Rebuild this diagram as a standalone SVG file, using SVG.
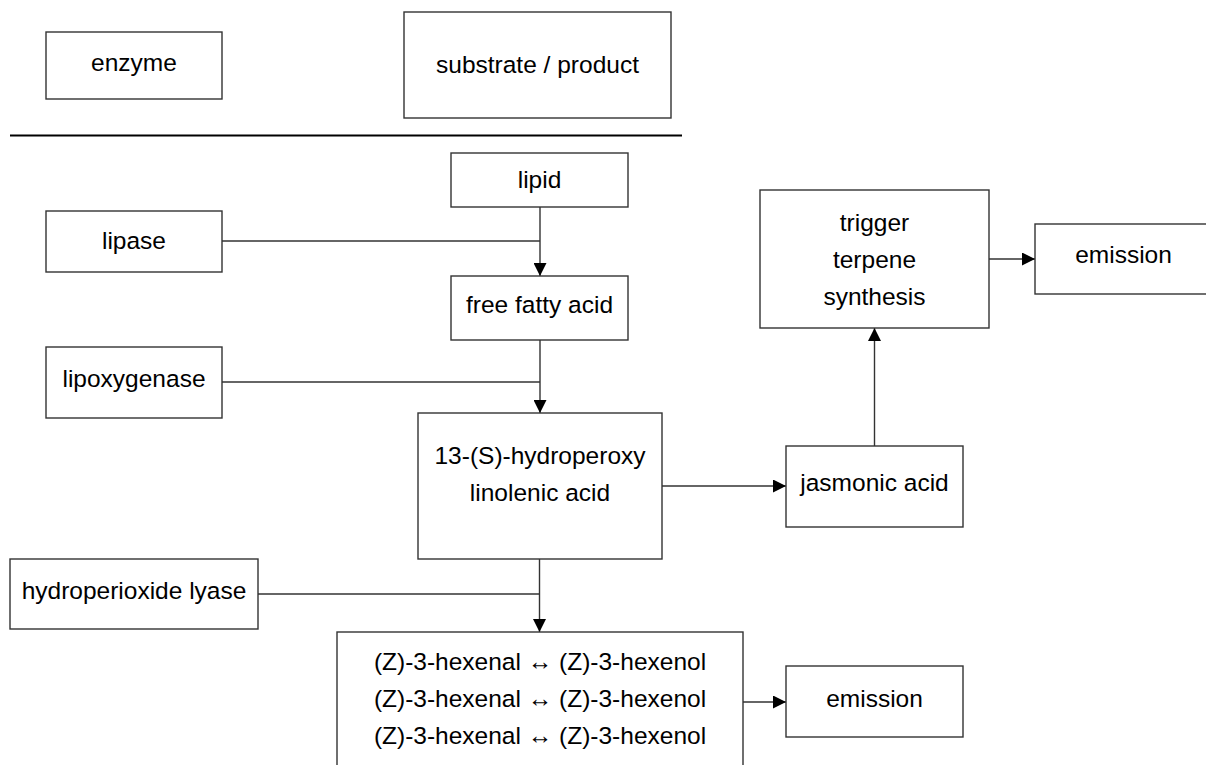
<svg xmlns="http://www.w3.org/2000/svg" width="1206" height="765" viewBox="0 0 1206 765">
<style>
.box{fill:#fff;stroke:#333;stroke-width:1.4}
.t{font-family:"Liberation Sans",Arial,sans-serif;font-size:24.5px;fill:#000;text-anchor:middle}
.c{fill:none;stroke:#333;stroke-width:1.4}
</style>
<defs>
<marker id="ah" markerUnits="userSpaceOnUse" markerWidth="13" markerHeight="13" refX="13" refY="6.5" orient="auto">
<path d="M0,0 L13,6.5 L0,13 z" fill="#000"/>
</marker>
</defs>
<rect width="1206" height="765" fill="#fff"/>
<g id="legend-enzyme"><rect class="box" x="46" y="32" width="176" height="67"/><text class="t" x="134" y="71">enzyme</text></g>
<g id="legend-substrate"><rect class="box" x="404" y="12" width="267" height="106"/><text class="t" x="537.5" y="73">substrate / product</text></g>
<line id="separator" x1="10" y1="135.5" x2="682" y2="135.5" stroke="#000" stroke-width="2"/>
<g id="connectors">
<line class="c" x1="540" y1="207" x2="540" y2="276" marker-end="url(#ah)"/>
<line class="c" x1="222" y1="241" x2="540" y2="241"/>
<line class="c" x1="540" y1="340" x2="540" y2="413" marker-end="url(#ah)"/>
<line class="c" x1="222" y1="382" x2="540" y2="382"/>
<line class="c" x1="662" y1="486" x2="786" y2="486" marker-end="url(#ah)"/>
<line class="c" x1="874.5" y1="446" x2="874.5" y2="328" marker-end="url(#ah)"/>
<line class="c" x1="989" y1="259" x2="1035" y2="259" marker-end="url(#ah)"/>
<line class="c" x1="539.5" y1="559" x2="539.5" y2="632" marker-end="url(#ah)"/>
<line class="c" x1="258" y1="594" x2="539.5" y2="594"/>
<line class="c" x1="743" y1="702" x2="786" y2="702" marker-end="url(#ah)"/>
</g>
<g id="lipid"><rect class="box" x="451" y="153" width="177" height="54"/><text class="t" x="539.5" y="188">lipid</text></g>
<g id="lipase"><rect class="box" x="46" y="211" width="176" height="61"/><text class="t" x="134" y="249">lipase</text></g>
<g id="free-fatty-acid"><rect class="box" x="451" y="276" width="177" height="64"/><text class="t" x="539.5" y="313">free fatty acid</text></g>
<g id="lipoxygenase"><rect class="box" x="46" y="347" width="176" height="71"/><text class="t" x="134" y="387">lipoxygenase</text></g>
<g id="hydroperoxy"><rect class="box" x="418" y="413" width="244" height="146"/><text class="t" x="540" y="464">13-(S)-hydroperoxy</text><text class="t" x="540" y="501">linolenic acid</text></g>
<g id="jasmonic-acid"><rect class="box" x="786" y="446" width="177" height="81"/><text class="t" x="874.5" y="491">jasmonic acid</text></g>
<g id="trigger"><rect class="box" x="760" y="190" width="229" height="138"/><text class="t" x="874.5" y="231">trigger</text><text class="t" x="874.5" y="268">terpene</text><text class="t" x="874.5" y="305">synthesis</text></g>
<g id="emission-top"><rect class="box" x="1035" y="224" width="177" height="70"/><text class="t" x="1123.5" y="263">emission</text></g>
<g id="hydroperioxide-lyase"><rect class="box" x="10" y="559" width="248" height="70"/><text class="t" x="134" y="599">hydroperioxide lyase</text></g>
<g id="hexenal"><rect class="box" x="337" y="632" width="406" height="140"/><text class="t" x="540" y="670">(Z)-3-hexenal ↔ (Z)-3-hexenol</text><text class="t" x="540" y="707">(Z)-3-hexenal ↔ (Z)-3-hexenol</text><text class="t" x="540" y="744">(Z)-3-hexenal ↔ (Z)-3-hexenol</text></g>
<g id="emission-bottom"><rect class="box" x="786" y="666" width="177" height="71"/><text class="t" x="874.5" y="707">emission</text></g>
</svg>
